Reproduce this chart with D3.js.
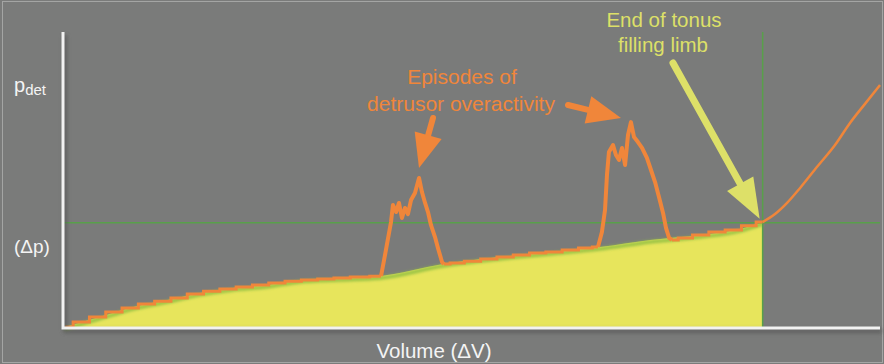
<!DOCTYPE html>
<html>
<head>
<meta charset="utf-8">
<script src="https://cdn.jsdelivr.net/npm/d3@7"></script>
<style>
  body { margin: 0; background: #7a7b7a; }
  text { font-family: "Liberation Sans", Arial, sans-serif; }
</style>
</head>
<body>
<div class="canvas"></div>
<script>
// filling curve (compliance), volume in ml / pdet in cmH2O (arbitrary units)
const baseVolume = [0, 21, 42, 63, 83, 103, 124, 144, 169, 193, 232, 267, 298, 328, 359, 390, 414, 428];
const basePressure = [0, 3.4, 6.8, 9.2, 11.6, 13.3, 14.3, 16, 16.7, 17.3, 21.4, 23.8, 25.5, 27.2, 29.6, 31.3, 33.3, 35.7];

// measured pdet trace during filling (stable parts)
const stableVolume1 = [0, 10, 20, 30, 40, 50, 60, 70, 80, 90, 100, 110, 120, 130, 140, 150, 160, 170, 180, 193.9];
const stablePressure1 = [0, 1.7, 3.4, 5.1, 6.5, 7.8, 8.8, 9.9, 11.2, 12.2, 12.9, 13.6, 14.3, 15, 15.6, 16, 16.3, 16.7, 17, 17.3];
const stableVolume2 = [232.5, 240, 250, 260, 270, 280, 290, 300, 310, 320, 327];
const stablePressure2 = [21.4, 21.8, 22.4, 23.1, 23.8, 24.5, 25.2, 25.5, 26.2, 26.9, 27.2];
const stableVolume3 = [372.4, 380, 390, 400, 410, 420, 428];
const stablePressure3 = [29.6, 30.3, 31.3, 32.3, 33, 34.4, 35.7];

// two episodes of detrusor overactivity
const episodeVolume1 = [193.9, 196.9, 200, 201.2, 203.1, 204.9, 206.7, 208.6, 210.4, 212.3, 214.7, 217.2, 219, 220.9, 222.7, 224.5, 227, 228.8, 231.3, 232.5];
const episodePressure1 = [17.3, 26.2, 35.7, 41.5, 39.1, 42.2, 37.1, 40.5, 38.4, 43.2, 45.6, 50.7, 45.9, 42.2, 39.1, 34.7, 30.6, 26.9, 22.1, 21.4];
const episodeVolume2 = [327, 329.4, 331.3, 332.5, 333.7, 336.2, 338, 339.9, 341.7, 343.6, 345.4, 347.2, 349.1, 351.5, 354, 357, 359.5, 362, 364.4, 366.9, 368.7, 370.6, 372.4];
const episodePressure2 = [27.2, 32.3, 39.8, 51.7, 59.5, 61.9, 58.5, 56.8, 60.9, 55.1, 65.3, 69.7, 64.6, 62.9, 60.9, 57.5, 53.4, 49.3, 44.2, 38.8, 33.7, 30.3, 29.6];

// beyond the end of the tonus limb
const postVolume = [428, 435.6, 443, 451, 461.3, 472.4, 481.6, 490.8, 500];
const postPressure = [35.7, 38.4, 42.2, 47.3, 54.4, 61.9, 69.4, 75.9, 82.3];

const refPressure = 35.5;
const refVolume = 428;

const width = 884, height = 364;
const svg = d3.select('.canvas')
    .append('svg')
    .attr('width', width)
    .attr('height', height);

svg.append('rect')
    .attr('width', width)
    .attr('height', height)
    .attr('fill', '#7a7b7a');
svg.append('rect')
    .attr('x', 2.5).attr('y', 1.5)
    .attr('width', width - 4).attr('height', height - 3)
    .attr('fill', 'none')
    .attr('stroke', '#a4a5a4')
    .attr('stroke-width', 1);

const x = d3.scaleLinear().domain([0, 500]).range([65, 880]);
const y = d3.scaleLinear().domain([0, 100]).range([327, 33]);

const defs = svg.append('defs');
defs.append('filter').attr('id', 'blur')
    .append('feGaussianBlur').attr('stdDeviation', 1.5);
defs.append('filter').attr('id', 'shadow')
    .append('feGaussianBlur').attr('stdDeviation', 2);

const zip = (vs, ps) => vs.map((v, i) => ({ v, p: ps[i] }));
const base = zip(baseVolume, basePressure);

// yellow filling area
const area = d3.area()
    .x(d => x(d.v))
    .y0(y(0))
    .y1(d => y(d.p))
    .curve(d3.curveMonotoneX);

svg.append('path')
    .datum(base)
    .attr('d', area)
    .attr('fill', '#e7e55c');

// green soft edge
svg.append('path')
    .datum(base)
    .attr('d', d3.line().x(d => x(d.v)).y(d => y(d.p) + 2).curve(d3.curveMonotoneX))
    .attr('fill', 'none')
    .attr('stroke', '#8cbd40')
    .attr('stroke-width', 3)
    .attr('filter', 'url(#blur)');

// reference lines
svg.append('line')
    .attr('x1', x(0) - 2).attr('x2', 880)
    .attr('y1', y(refPressure)).attr('y2', y(refPressure))
    .attr('stroke', '#58a04a')
    .attr('stroke-width', 1.5);
svg.append('line')
    .attr('x1', x(refVolume)).attr('x2', x(refVolume))
    .attr('y1', 32).attr('y2', y(0))
    .attr('stroke', '#58a04a')
    .attr('stroke-width', 1.5);

// orange pdet trace
const orange = '#f0863a', yellow = '#dde068';
const stepLine = d3.line().x(d => x(d.v)).y(d => y(d.p)).curve(d3.curveStep);
const jagLine = d3.line().x(d => x(d.v)).y(d => y(d.p));

[zip(stableVolume1, stablePressure1), zip(stableVolume2, stablePressure2), zip(stableVolume3, stablePressure3)]
    .forEach(seg => {
        svg.append('path')
            .datum(seg)
            .attr('d', stepLine)
            .attr('fill', 'none')
            .attr('stroke', orange)
            .attr('stroke-width', 3);
    });

[zip(episodeVolume1, episodePressure1), zip(episodeVolume2, episodePressure2)]
    .forEach(seg => {
        svg.append('path')
            .datum(seg)
            .attr('d', jagLine)
            .attr('fill', 'none')
            .attr('stroke', orange)
            .attr('stroke-width', 4)
            .attr('stroke-linejoin', 'round');
    });

svg.append('path')
    .datum(zip(postVolume, postPressure))
    .attr('d', d3.line().x(d => x(d.v)).y(d => y(d.p)).curve(d3.curveMonotoneX))
    .attr('fill', 'none')
    .attr('stroke', orange)
    .attr('stroke-width', 2.5);

// axes
const axisPath = `M${x(0) - 2},32 V${y(0) + 1} H880`;
svg.append('path')
    .attr('d', axisPath)
    .attr('fill', 'none')
    .attr('stroke', '#555')
    .attr('stroke-width', 3)
    .attr('transform', 'translate(2,3)')
    .attr('filter', 'url(#shadow)');
svg.append('path')
    .attr('d', axisPath)
    .attr('fill', 'none')
    .attr('stroke', '#f2f2f2')
    .attr('stroke-width', 3);

// arrows
function arrow(x0, y0, x1, y1, color, shaft, headLen, headW) {
    const a = Math.atan2(y1 - y0, x1 - x0);
    const bx = x1 - headLen * Math.cos(a), by = y1 - headLen * Math.sin(a);
    const nx = -Math.sin(a), ny = Math.cos(a);
    svg.append('line')
        .attr('x1', x0).attr('y1', y0).attr('x2', bx).attr('y2', by)
        .attr('stroke', color).attr('stroke-width', shaft).attr('stroke-linecap', 'round');
    svg.append('path')
        .attr('d', `M${x1},${y1} L${bx + nx * headW},${by + ny * headW} L${bx - nx * headW},${by - ny * headW} Z`)
        .attr('fill', color);
}
arrow(433, 118, 419, 168, orange, 6, 34, 14);
arrow(568, 105, 621, 118, orange, 6, 34, 14);
arrow(673, 63, x(refVolume) - 3, y(refPressure) - 4, yellow, 7, 40, 15);

// labels
svg.append('text').attr('x', 462).attr('y', 84).attr('text-anchor', 'middle')
    .attr('font-size', 21).attr('fill', orange).text('Episodes of');
svg.append('text').attr('x', 461).attr('y', 111).attr('text-anchor', 'middle')
    .attr('font-size', 21).attr('fill', orange).text('detrusor overactivity');
svg.append('text').attr('x', 664).attr('y', 27).attr('text-anchor', 'middle')
    .attr('font-size', 20.5).attr('fill', yellow).text('End of tonus');
svg.append('text').attr('x', 663).attr('y', 52).attr('text-anchor', 'middle')
    .attr('font-size', 20.5).attr('fill', yellow).text('filling limb');

const pdet = svg.append('text').attr('x', 14).attr('y', 92)
    .attr('font-size', 20).attr('fill', '#f4f4f4');
pdet.append('tspan').text('p');
pdet.append('tspan').attr('dy', 3).attr('font-size', 15).text('det');

svg.append('text').attr('x', 14).attr('y', 253)
    .attr('font-size', 19).attr('fill', '#f4f4f4').text('(Δp)');
svg.append('text').attr('x', 434).attr('y', 358).attr('text-anchor', 'middle')
    .attr('font-size', 20.5).attr('fill', '#f4f4f4').text('Volume (ΔV)');
</script>
</body>
</html>
